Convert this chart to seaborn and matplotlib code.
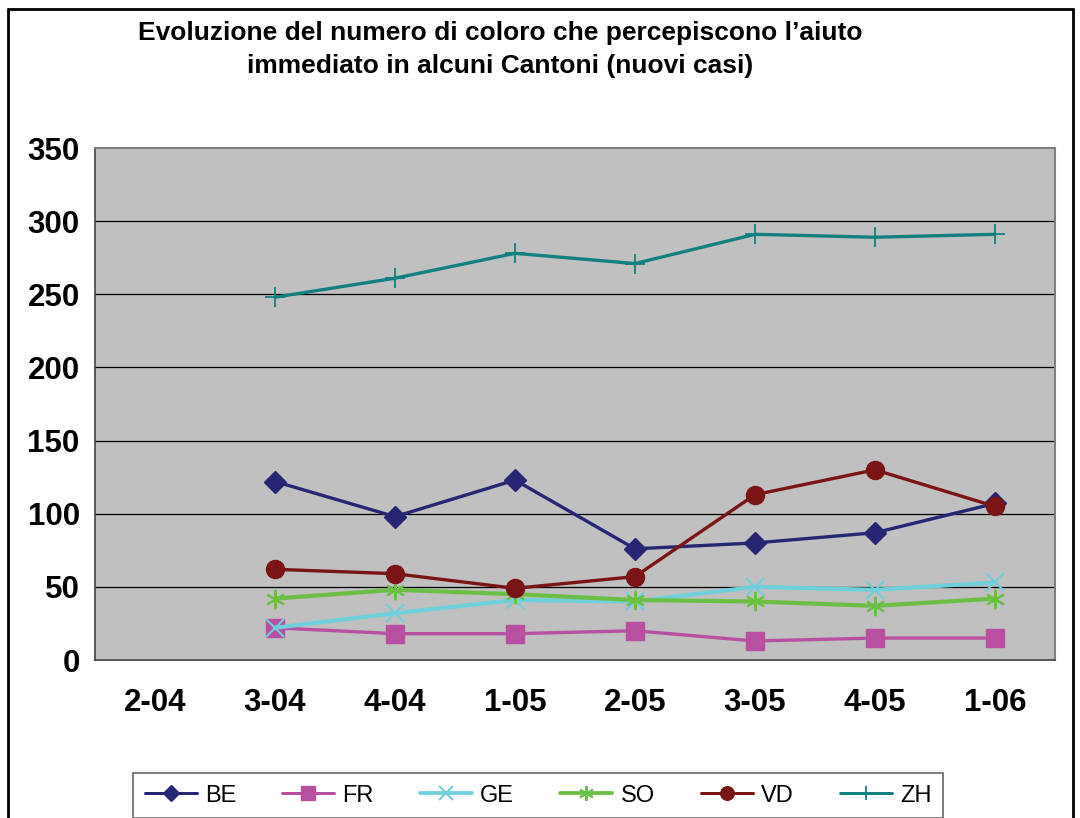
import matplotlib
matplotlib.use("Agg")
import matplotlib.pyplot as plt
import seaborn as sns
import numpy as np
import pandas as pd
from matplotlib.lines import Line2D

categories = ["2-04", "3-04", "4-04", "1-05", "2-05", "3-05", "4-05", "1-06"]
BE = [np.nan, 122, 98, 123, 76, 80, 87, 107]
FR = [np.nan, 22, 18, 18, 20, 13, 15, 15]
GE = [np.nan, 22, 32, 41, 40, 50, 48, 53]
SO = [np.nan, 42, 48, 45, 41, 40, 37, 42]
VD = [np.nan, 62, 59, 49, 57, 113, 130, 105]
ZH = [np.nan, 248, 261, 278, 271, 291, 289, 291]
y_ticks = [0, 50, 100, 150, 200, 250, 300, 350]

series = {"BE": BE, "FR": FR, "GE": GE, "SO": SO, "VD": VD, "ZH": ZH}
colors = {"BE": "#262673", "FR": "#B84FA0", "GE": "#6FCFDB",
          "SO": "#6CBF45", "VD": "#7B1414", "ZH": "#138080"}
markers = {"BE": "D", "FR": "s", "GE": "x", "SO": (6, 2, 0), "VD": "o", "ZH": "+"}
msizes = {"BE": 11.5, "FR": 12.5, "GE": 13, "SO": 14, "VD": 13, "ZH": 14}
mew = {"BE": 1, "FR": 1, "GE": 1.5, "SO": 1.5, "VD": 1, "ZH": 1.3}
lws = {"BE": 2.4, "FR": 2.4, "GE": 3.0, "SO": 3.0, "VD": 2.4, "ZH": 2.4}

rows = []
for name, vals in series.items():
    for i, (c, v) in enumerate(zip(categories, vals)):
        rows.append({"canton": name, "pos": i, "cat": c, "value": v})
df = pd.DataFrame(rows)

sns.set_style("white")
plt.rcParams["font.family"] = ["Liberation Sans", "DejaVu Sans"]
plt.rcParams["text.color"] = "black"
plt.rcParams["xtick.color"] = "black"
plt.rcParams["ytick.color"] = "black"

fig = plt.figure(figsize=(10.8, 8.18), dpi=100)
ax = fig.add_axes([95/1080, 1-660/818, 960/1080, 512/818])
ax.set_facecolor("#C0C0C0")

for name in series:
    sub = df[df["canton"] == name].dropna()
    sns.lineplot(data=sub, x="pos", y="value", ax=ax, color=colors[name],
                 marker=markers[name], markersize=msizes[name],
                 markeredgecolor=colors[name], markeredgewidth=mew[name],
                 linewidth=lws[name], label=name, legend=False, zorder=3)

ax.set_xlim(-0.5, len(categories) - 0.5)
ax.set_ylim(0, 350)
ax.set_yticks(y_ticks)
ax.set_yticklabels([str(t) for t in y_ticks], fontsize=22.5, fontweight="bold")
ax.set_xticks(range(len(categories)))
ax.set_xticklabels(categories, fontsize=22.5, fontweight="bold")
ax.set_xticks(np.arange(-0.5, len(categories)), minor=True)
ax.tick_params(axis="x", which="major", length=0, pad=20)
ax.tick_params(axis="x", which="minor", length=9, width=1.2, color="#404040", direction="out")
ax.tick_params(axis="y", which="major", length=9, width=1.2, color="#404040", direction="out", pad=2)
ax.set_xlabel("")
ax.set_ylabel("")
for yv in y_ticks[1:-1]:
    ax.axhline(yv, color="black", linewidth=0.9, zorder=1)
for s in ["top", "right"]:
    ax.spines[s].set_color("#808080")
    ax.spines[s].set_linewidth(1.5)
for s in ["left", "bottom"]:
    ax.spines[s].set_color("#404040")
    ax.spines[s].set_linewidth(1.2)

fig.text(500/1080, 1-33/818, "Evoluzione del numero di coloro che percepiscono l\u2019aiuto",
         ha="center", va="center", fontsize=19, fontweight="bold", color="black")
fig.text(500/1080, 1-66/818, "immediato in alcuni Cantoni (nuovi casi)",
         ha="center", va="center", fontsize=19, fontweight="bold", color="black")

handles = [Line2D([0], [0], color=colors[n], marker=markers[n], markersize=msizes[n]*0.75,
                  markeredgecolor=colors[n], markeredgewidth=mew[n], linewidth=lws[n]*0.9)
           for n in series]
leg = fig.legend(handles, list(series.keys()), loc="center",
                 bbox_to_anchor=(538/1080, 1-795.5/818), ncol=6, fontsize=17,
                 frameon=True, fancybox=False, handlelength=2.2, columnspacing=1.95,
                 handletextpad=0.35, borderpad=0.5, borderaxespad=0)
leg.get_frame().set_edgecolor("#404040")
leg.get_frame().set_linewidth(1.2)
for t in leg.get_texts():
    t.set_color("black")

# outer chart border
fig.add_artist(Line2D([8/1080, 8/1080], [0, 1-9/818], color="black", linewidth=2, transform=fig.transFigure))
fig.add_artist(Line2D([8/1080, 1073/1080], [1-9/818, 1-9/818], color="black", linewidth=2, transform=fig.transFigure))
fig.add_artist(Line2D([1073/1080, 1073/1080], [0, 1-9/818], color="black", linewidth=2, transform=fig.transFigure))

fig.savefig("out.png", dpi=100, facecolor="white")
